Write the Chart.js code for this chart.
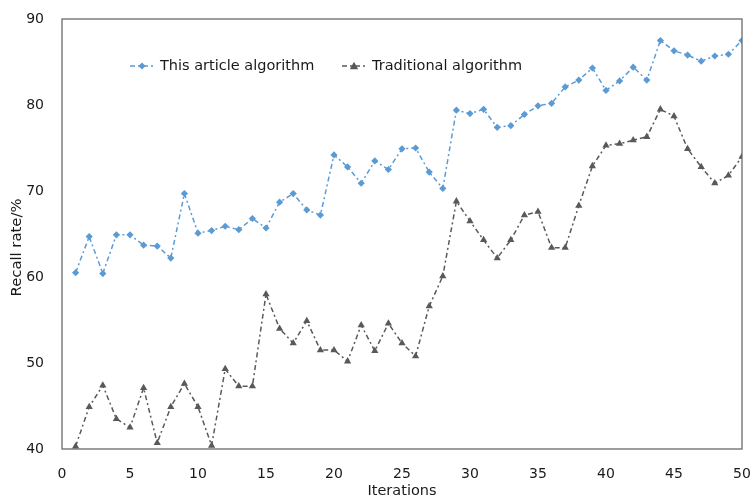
<!DOCTYPE html>
<html>
<head>
<meta charset="utf-8">
<script src="https://cdn.jsdelivr.net/npm/chart.js@4/dist/chart.umd.min.js"></script>
<style>
html,body{margin:0;padding:0;background:#fff;}
#wrap{width:753px;height:498px;position:relative;}
</style>
</head>
<body>
<div id="wrap"><canvas id="c" width="753" height="498"></canvas></div>
<script>
const iterations = Array.from({length: 50}, (_, i) => i + 1);
const thisArticle = [60.5, 64.7, 60.4, 64.9, 64.9, 63.7, 63.6, 62.2, 69.7, 65.1,
  65.4, 65.9, 65.5, 66.8, 65.7, 68.7, 69.7, 67.8, 67.2, 74.2,
  72.8, 70.9, 73.5, 72.5, 74.9, 75.0, 72.2, 70.3, 79.4, 79.0,
  79.5, 77.4, 77.6, 78.9, 79.9, 80.2, 82.1, 82.9, 84.3, 81.7,
  82.8, 84.4, 82.9, 87.5, 86.3, 85.8, 85.1, 85.7, 85.9, 87.5];
const traditional = [40.3, 44.9, 47.4, 43.5, 42.5, 47.1, 40.7, 44.9, 47.6, 44.9,
  40.4, 49.3, 47.3, 47.3, 58.0, 54.0, 52.3, 54.9, 51.5, 51.5,
  50.2, 54.4, 51.4, 54.6, 52.3, 50.8, 56.6, 60.1, 68.8, 66.5,
  64.3, 62.2, 64.3, 67.2, 67.6, 63.4, 63.4, 68.3, 72.9, 75.3,
  75.5, 75.9, 76.3, 79.5, 78.7, 74.9, 72.8, 70.9, 71.8, 74.0];
const seriesNames = ['This article algorithm', 'Traditional algorithm'];
const xTicks = [0, 5, 10, 15, 20, 25, 30, 35, 40, 45, 50];
const yTicks = [40, 50, 60, 70, 80, 90];
const xTitle = 'Iterations';
const yTitle = 'Recall rate/%';

const BLUE = '#5B9BD5';
const GRAY = '#595959';
const FONT = "'DejaVu Sans', Verdana, sans-serif";
const TXT = '#1a1a1a';

function toXY(vals){ return vals.map((v,i)=>({x: iterations[i], y: v})); }

function drawMarker(ctx, style, x, y, color){
  ctx.save();
  ctx.fillStyle = color;
  ctx.beginPath();
  if (style === 'diamond'){
    const r = 3.6;
    ctx.moveTo(x, y - r); ctx.lineTo(x + r, y); ctx.lineTo(x, y + r); ctx.lineTo(x - r, y);
  } else {
    const r = 4.2;
    ctx.moveTo(x, y - r); ctx.lineTo(x + r, y + r*0.75); ctx.lineTo(x - r, y + r*0.75);
  }
  ctx.closePath();
  ctx.fill();
  ctx.restore();
}

const framePlugin = {
  id: 'frame',
  afterDraw(chart){
    const {ctx, chartArea: a} = chart;
    ctx.save();
    ctx.strokeStyle = '#6b6b6b';
    ctx.lineWidth = 1.3;
    ctx.strokeRect(a.left, a.top, a.right - a.left, a.bottom - a.top);
    // axis titles
    ctx.fillStyle = TXT;
    ctx.textAlign = 'center';
    ctx.textBaseline = 'middle';
    ctx.font = '14.5px ' + FONT;
    ctx.fillText(xTitle, (a.left + a.right) / 2, 491);
    ctx.translate(17.5, 247.5);
    ctx.rotate(-Math.PI/2);
    ctx.font = '14.8px ' + FONT;
    ctx.fillText(yTitle, 0, 0);
    ctx.restore();
  }
};

const legendPlugin = {
  id: 'customLegend',
  afterDraw(chart){
    const ctx = chart.ctx;
    const y = 66;
    const items = [
      {x: 130, color: BLUE, dash: [5,3,2,3], marker: 'diamond'},
      {x: 342, color: GRAY, dash: [5,3,2,3], marker: 'triangle'}
    ];
    ctx.save();
    items.forEach((it, i) => {
      ctx.strokeStyle = it.color;
      ctx.lineWidth = 1.5;
      ctx.setLineDash(it.dash);
      ctx.beginPath();
      ctx.moveTo(it.x, y); ctx.lineTo(it.x + 24, y);
      ctx.stroke();
      ctx.setLineDash([]);
      drawMarker(ctx, it.marker, it.x + 12, y, it.color);
      ctx.fillStyle = TXT;
      ctx.font = '14.5px ' + FONT;
      ctx.textBaseline = 'middle';
      ctx.textAlign = 'left';
      ctx.fillText(chart.data.datasets[i].label, it.x + 30, y);
    });
    ctx.restore();
  }
};

new Chart(document.getElementById('c'), {
  type: 'line',
  data: {
    datasets: [
      {
        label: seriesNames[0],
        data: toXY(thisArticle),
        borderColor: BLUE,
        backgroundColor: BLUE,
        borderWidth: 1.5,
        borderDash: [5,3,2,3],
        pointStyle: 'rectRot',
        pointRadius: 3.6,
        pointBorderWidth: 0,
        tension: 0
      },
      {
        label: seriesNames[1],
        data: toXY(traditional),
        borderColor: GRAY,
        backgroundColor: GRAY,
        borderWidth: 1.5,
        borderDash: [5,3,2,3],
        pointStyle: 'triangle',
        pointRadius: 4.2,
        pointBorderWidth: 0,
        tension: 0
      }
    ]
  },
  options: {
    responsive: false,
    animation: false,
    layout: {padding: {top: 19, right: 11, left: 0, bottom: 0}},
    plugins: {legend: {display: false}, tooltip: {enabled: false}},
    scales: {
      x: {
        type: 'linear',
        min: 0, max: 50,
        afterBuildTicks(s){ s.ticks = xTicks.map(v => ({value: v})); },
        afterFit(s){ s.height = 49; s.paddingLeft = 0; s.paddingRight = 0; },
        grid: {display: false},
        border: {display: false},
        ticks: {color: TXT, font: {family: FONT, size: 14}, padding: 9, maxRotation: 0},
        title: {display: false}
      },
      y: {
        min: 40, max: 90,
        afterBuildTicks(s){ s.ticks = yTicks.map(v => ({value: v})); },
        afterFit(s){ s.width = 62; s.paddingTop = 0; s.paddingBottom = 0; },
        grid: {display: false},
        border: {display: false},
        ticks: {color: TXT, font: {family: FONT, size: 14}, padding: 10},
        title: {display: false}
      }
    }
  },
  plugins: [framePlugin, legendPlugin]
});
</script>
</body>
</html>
